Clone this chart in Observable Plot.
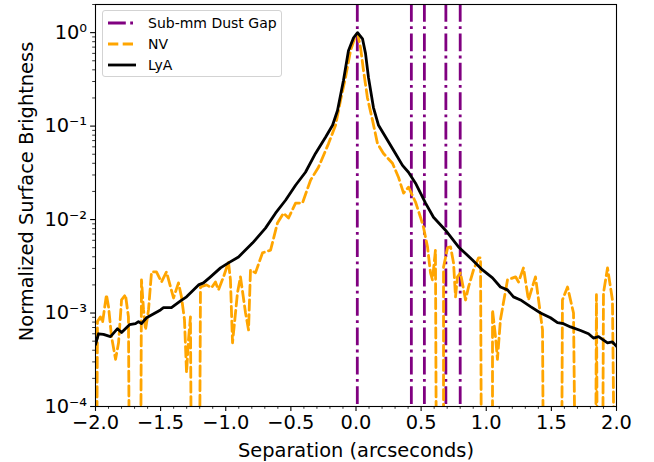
<!DOCTYPE html>
<html><head><meta charset="utf-8">
<script src="https://cdn.jsdelivr.net/npm/d3@7"></script>
<script src="https://cdn.jsdelivr.net/npm/@observablehq/plot@0.6"></script>
<style>
body{margin:0;background:#fff;font-family:"DejaVu Sans",sans-serif;}
#wrap{position:relative;width:654px;height:462px;}
#legend{position:absolute;left:102px;top:10px;width:180px;height:67px;border:1px solid #d3d3d3;border-radius:3px;background:rgba(255,255,255,0.85);box-sizing:border-box;}
.row{position:absolute;left:0;height:20px;display:flex;align-items:center;font-size:14px;color:#000;font-family:"DejaVu Sans",sans-serif;white-space:nowrap;}
.row svg{margin-left:4px;margin-right:11px;}
</style></head>
<body><div id="wrap"><div id="chart"></div><div id="legend"></div></div>
<script>
// LyA surface brightness profile
const lyaX=[-2.000,-1.977,-1.939,-1.885,-1.831,-1.800,-1.739,-1.693,-1.670,-1.647,-1.608,-1.501,-1.478,-1.417,-1.347,-1.301,-1.209,-1.171,-1.117,-1.040,-0.979,-0.902,-0.795,-0.695,-0.618,-0.541,-0.464,-0.388,-0.311,-0.234,-0.180,-0.142,-0.096,-0.058,-0.019,0.012,0.050,0.073,0.096,0.134,0.173,0.242,0.303,0.357,0.403,0.457,0.534,0.595,0.687,0.787,0.894,0.971,1.048,1.109,1.163,1.209,1.263,1.340,1.417,1.493,1.547,1.593,1.647,1.724,1.785,1.823,1.862,1.931,1.969,2.000];
const lyaY=[4.6e-4,6.0e-4,5.9e-4,5.6e-4,6.8e-4,6.2e-4,7.5e-4,7.7e-4,8.1e-4,7.7e-4,8.9e-4,1.08e-3,1.14e-3,1.14e-3,1.35e-3,1.49e-3,2.0e-3,2.1e-3,2.44e-3,3.04e-3,3.44e-3,3.98e-3,5.6e-3,8.1e-3,1.17e-2,1.61e-2,2.33e-2,3.21e-2,5.1e-2,7.6e-2,0.102,0.147,0.31,0.64,0.88,1.0,0.86,0.60,0.33,0.158,0.102,0.0705,0.051,0.038,0.0321,0.0245,0.015,0.0106,7.7e-3,5.1e-3,3.7e-3,2.89e-3,2.38e-3,1.9e-3,1.77e-3,1.49e-3,1.38e-3,1.17e-3,1.0e-3,8.9e-4,7.9e-4,7.7e-4,7.1e-4,6.5e-4,6.0e-4,5.4e-4,5.6e-4,4.8e-4,4.9e-4,4.4e-4];
// NV surface brightness profile (1e-5 = below the plotted range)
const nvX=[-1.992,-1.985,-1.962,-1.946,-1.916,-1.900,-1.877,-1.846,-1.823,-1.800,-1.770,-1.747,-1.739,-1.654,-1.647,-1.631,-1.616,-1.593,-1.570,-1.532,-1.493,-1.455,-1.401,-1.363,-1.340,-1.317,-1.301,-1.286,-1.271,-1.263,-1.202,-1.194,-1.148,-1.109,-1.079,-1.056,-1.017,-0.979,-0.964,-0.948,-0.910,-0.887,-0.848,-0.825,-0.810,-0.772,-0.718,-0.656,-0.603,-0.557,-0.518,-0.464,-0.411,-0.349,-0.288,-0.211,-0.157,-0.119,-0.081,-0.042,-0.004,0.012,0.035,0.058,0.088,0.127,0.165,0.211,0.280,0.326,0.365,0.403,0.457,0.495,0.518,0.549,0.572,0.587,0.610,0.618,0.672,0.672,0.703,0.726,0.749,0.764,0.779,0.802,0.841,0.864,0.902,0.941,0.956,0.964,1.048,1.048,1.071,1.086,1.109,1.163,1.225,1.248,1.286,1.324,1.378,1.432,1.440,1.578,1.585,1.624,1.670,1.685,1.839,1.846,1.854,1.893,1.900,1.931,1.969,1.985,2.000];
const nvY=[1e-5,8.1e-4,9.1e-4,7.9e-4,1.57e-3,1.17e-3,5.6e-4,3.2e-4,4.8e-4,1.38e-3,1.57e-3,9.1e-4,1e-5,1e-5,2.26e-3,1.08e-3,6.6e-4,1.08e-3,2.75e-3,2.75e-3,2.15e-3,2.75e-3,1.45e-3,2.1e-3,1.49e-3,8.5e-4,2.3e-4,5.2e-4,9.1e-4,1e-5,1e-5,1.9e-3,2.0e-3,1.86e-3,2.15e-3,1.77e-3,2.44e-3,3.52e-3,2.26e-3,4.8e-4,1.64e-3,2.44e-3,1.0e-3,6.6e-4,2.89e-3,2.69e-3,4.4e-3,4.7e-3,9.2e-3,1.17e-2,1.04e-2,1.5e-2,1.5e-2,2.64e-2,3.63e-2,6.5e-2,0.102,0.188,0.33,0.64,0.93,0.98,0.69,0.39,0.20,0.115,0.065,0.051,0.040,0.0284,0.0192,0.0222,0.0154,0.0106,8.3e-3,5.1e-3,2.69e-3,2.26e-3,4.7e-3,1e-5,1e-5,3.1e-3,5.0e-3,5.1e-3,3.44e-3,1.49e-3,2.44e-3,2.69e-3,1.38e-3,1.9e-3,2.89e-3,3.9e-3,3.9e-3,1e-5,1e-5,1.08e-3,5.6e-4,3.2e-4,8.5e-4,2.26e-3,2.44e-3,2.15e-3,3.04e-3,1.38e-3,2.44e-3,6.6e-4,1e-5,1e-5,1.38e-3,1.9e-3,1.0e-3,1e-5,1e-5,1.57e-3,1e-5,1e-5,1.64e-3,3.04e-3,1.38e-3,1e-5,1e-5];
// Sub-mm dust gap positions (arcsec)
const gapX=[0.01,0.425,0.525,0.69,0.80];
const seriesNames=["Sub-mm Dust Gap","NV","LyA"];
const xTicks=[-2,-1.5,-1,-0.5,0,0.5,1,1.5,2];
const yTicks=[1e-4,1e-3,1e-2,1e-1,1];
const xLabel="Separation (arcseconds)";
const yLabel="Normalized Surface Brightness";

const PURPLE="#800080", ORANGE="#FFA500", BLACK="#000000";
const DASH="10.3,4.4", DASHDOT="17.8,4.4,2.8,4.4";
const FS=19.4;

const xMinor=d3.range(-20,21).map(i=>i/10).filter(v=>Math.abs(v*2-Math.round(v*2))>1e-6);
const yMinor=[];
for(let k=-4;k<=0;k++) for(let m=2;m<=9;m++){const v=m*Math.pow(10,k); if(v<=2) yMinor.push(v);}
const supMap={"-":"\u207B","0":"\u2070","1":"\u00B9","2":"\u00B2","3":"\u00B3","4":"\u2074"};
const yFmt=d=>"10"+String(Math.round(Math.log10(d))).split("").map(c=>supMap[c]).join("");

const lya=lyaX.map((x,i)=>({x,y:lyaY[i]}));
const nv=nvX.map((x,i)=>({x,y:nvY[i]}));

const chart=Plot.plot({
  width:654,height:462,marginLeft:95,marginRight:38,marginTop:4,marginBottom:56,
  style:{fontFamily:"DejaVu Sans",fontSize:FS+"px",color:"#000",background:"#fff",overflow:"visible"},
  x:{domain:[-2,2]},
  y:{type:"log",domain:[1e-4,2]},
  marks:[
    Plot.ruleX(gapX,{stroke:PURPLE,strokeWidth:2.8,strokeDasharray:DASHDOT}),
    Plot.line(nv,{x:"x",y:"y",stroke:ORANGE,strokeWidth:2.8,strokeDasharray:DASH,clip:true}),
    Plot.line(lya,{x:"x",y:"y",stroke:BLACK,strokeWidth:2.8,clip:true}),
    Plot.frame({stroke:"#000",strokeWidth:1.1}),
    Plot.axisX({ticks:xTicks,tickFormat:d3.format(".1f"),tickSize:4.9,tickPadding:3.5,fontSize:FS,label:null,strokeWidth:1.1}),
    Plot.axisX({ticks:xMinor,tickFormat:()=>"",tickSize:2.8,label:null,strokeWidth:0.8}),
    Plot.axisY({ticks:yTicks,tickFormat:yFmt,tickSize:4.9,tickPadding:3.5,fontSize:FS,label:null,strokeWidth:1.1}),
    Plot.axisY({ticks:yMinor,tickFormat:()=>"",tickSize:2.8,label:null,strokeWidth:0.8}),
    Plot.text([xLabel],{frameAnchor:"bottom",dy:44,lineAnchor:"middle",textAnchor:"middle",fontSize:FS}),
    Plot.text([yLabel],{frameAnchor:"left",dx:-69,dy:-14,rotate:-90,lineAnchor:"middle",textAnchor:"middle",fontSize:FS})
  ]
});
document.getElementById("chart").appendChild(chart);

// legend
const legendStyles=[{stroke:PURPLE,dash:DASHDOT},{stroke:ORANGE,dash:DASH},{stroke:BLACK,dash:null}];
const leg=document.getElementById("legend");
seriesNames.forEach((name,i)=>{
  const row=document.createElement("div");
  row.className="row";
  row.style.top=(2+i*21)+"px";
  const st=legendStyles[i];
  row.innerHTML=`<svg width="30" height="10"><line x1="1" y1="5" x2="29" y2="5" stroke="${st.stroke}" stroke-width="2.8" ${st.dash?`stroke-dasharray="${st.dash}"`:""}/></svg><span>${name}</span>`;
  leg.appendChild(row);
});
</script>
</body></html>
